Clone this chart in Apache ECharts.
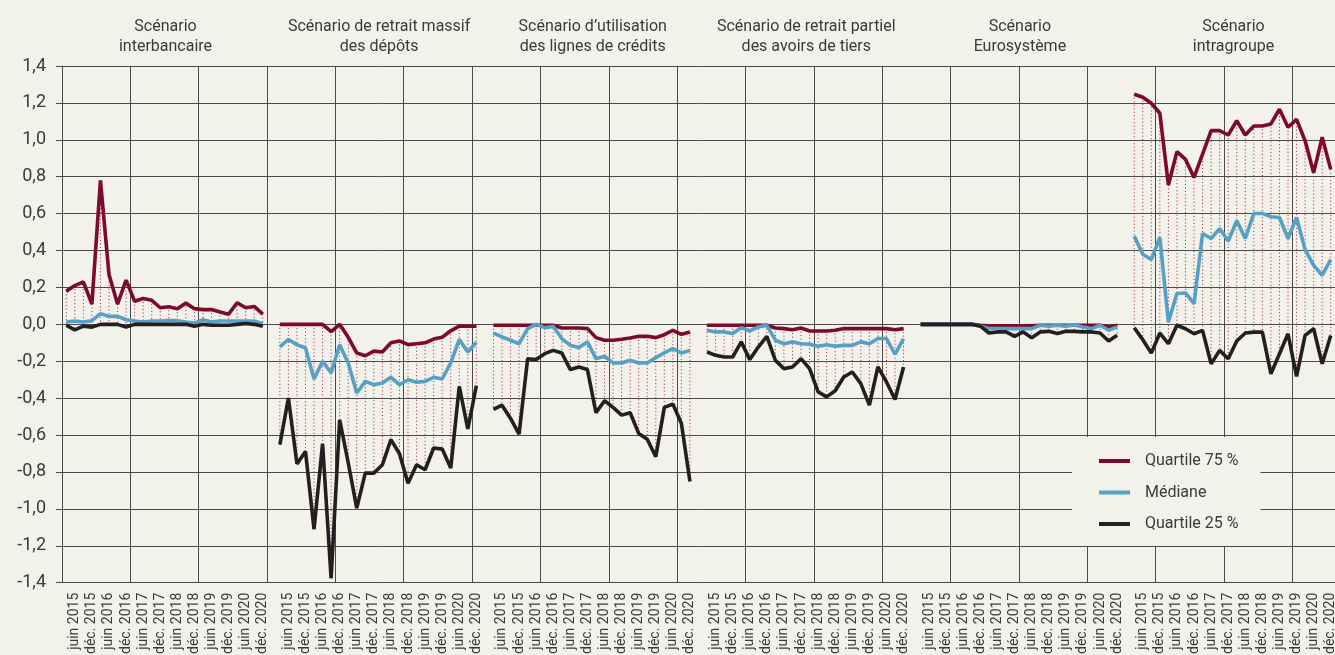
<!DOCTYPE html>
<html><head><meta charset="utf-8">
<script src="https://cdn.jsdelivr.net/npm/echarts@6/dist/echarts.min.js"></script>
<style>html,body{margin:0;padding:0;background:#f2f1ea}#c{width:1335px;height:655px}</style>
</head><body><div id="c"></div>
<script>
const tickLabels = ['juin 2015','déc. 2015','juin 2016','déc. 2016','juin 2017','déc. 2017','juin 2018','déc. 2018','juin 2019','déc. 2019','juin 2020','déc. 2020'];
const panelTitles = ['Scénario\ninterbancaire','Scénario de retrait massif\ndes dépôts','Scénario d’utilisation\ndes lignes de crédits','Scénario de retrait partiel\ndes avoirs de tiers','Scénario\nEurosystème','Scénario\nintragroupe'];
const seriesNames = ['Quartile 75 %','Médiane','Quartile 25 %'];

const interbancaireQ75 = [0.18,0.21,0.23,0.11,0.78,0.27,0.11,0.24,0.125,0.14,0.13,0.09,0.095,0.085,0.115,0.085,0.08,0.08,0.067,0.055,0.117,0.09,0.097,0.055];
const interbancaireMed = [0.013,0.018,0.013,0.02,0.058,0.043,0.043,0.025,0.018,0.013,0.018,0.018,0.02,0.02,0.013,0.007,0.025,0.013,0.018,0.018,0.018,0.018,0.018,0.004];
const interbancaireQ25 = [-0.005,-0.03,-0.01,-0.015,0,0,0,-0.015,0,0,0,0,0,0,0,-0.01,0,-0.005,-0.005,-0.005,0,0.005,0,-0.01];

const depotsQ75 = [0,0,0,0,0,0,-0.04,0,-0.07,-0.155,-0.17,-0.145,-0.15,-0.1,-0.09,-0.11,-0.105,-0.1,-0.08,-0.07,-0.035,-0.01,-0.01,-0.01];
const depotsMed = [-0.122,-0.082,-0.11,-0.128,-0.296,-0.2,-0.263,-0.11,-0.209,-0.372,-0.309,-0.327,-0.318,-0.287,-0.327,-0.3,-0.314,-0.309,-0.287,-0.296,-0.209,-0.082,-0.15,-0.097];
const depotsQ25 = [-0.652,-0.399,-0.756,-0.689,-1.11,-0.647,-1.376,-0.517,-0.75,-0.996,-0.806,-0.806,-0.761,-0.625,-0.701,-0.861,-0.761,-0.788,-0.67,-0.676,-0.779,-0.336,-0.567,-0.332];

const creditsQ75 = [-0.005,-0.005,-0.005,-0.005,-0.005,-0.005,-0.005,-0.005,-0.02,-0.02,-0.02,-0.023,-0.072,-0.086,-0.086,-0.081,-0.074,-0.065,-0.065,-0.072,-0.056,-0.032,-0.054,-0.041];
const creditsMed = [-0.047,-0.068,-0.086,-0.105,-0.023,0,-0.018,-0.011,-0.077,-0.114,-0.126,-0.095,-0.186,-0.173,-0.209,-0.209,-0.195,-0.209,-0.209,-0.18,-0.155,-0.132,-0.155,-0.141];
const creditsQ25 = [-0.461,-0.438,-0.51,-0.595,-0.186,-0.191,-0.159,-0.141,-0.155,-0.245,-0.231,-0.245,-0.479,-0.414,-0.45,-0.492,-0.479,-0.591,-0.623,-0.717,-0.45,-0.432,-0.537,-0.852];

const tiersQ75 = [-0.005,-0.005,-0.005,-0.005,-0.005,-0.005,-0.005,-0.005,-0.02,-0.023,-0.029,-0.02,-0.036,-0.036,-0.036,-0.032,-0.023,-0.023,-0.023,-0.023,-0.023,-0.023,-0.029,-0.023];
const tiersMed = [-0.032,-0.041,-0.041,-0.05,-0.018,-0.036,-0.014,-0.005,-0.086,-0.105,-0.095,-0.105,-0.108,-0.119,-0.11,-0.119,-0.114,-0.114,-0.095,-0.105,-0.077,-0.077,-0.162,-0.077];
const tiersQ25 = [-0.15,-0.168,-0.177,-0.177,-0.095,-0.191,-0.123,-0.065,-0.195,-0.24,-0.231,-0.186,-0.24,-0.366,-0.393,-0.36,-0.285,-0.258,-0.321,-0.438,-0.231,-0.312,-0.407,-0.231];

const euroQ75 = [0,0,0,0,0,0,0,-0.005,-0.008,-0.008,-0.008,-0.008,-0.008,-0.008,-0.005,-0.005,-0.005,-0.005,-0.005,-0.005,-0.005,-0.005,-0.015,-0.005];
const euroMed = [0,0,0,0,0,0,0,-0.01,-0.023,-0.023,-0.023,-0.023,-0.023,-0.023,-0.005,-0.01,-0.005,-0.01,-0.003,-0.014,-0.023,-0.005,-0.032,-0.014];
const euroQ25 = [0,0,0,0,0,0,0,-0.01,-0.047,-0.041,-0.041,-0.065,-0.041,-0.072,-0.041,-0.038,-0.05,-0.038,-0.038,-0.041,-0.041,-0.047,-0.09,-0.059];

const intraQ75 = [1.247,1.231,1.198,1.144,0.755,0.936,0.894,0.796,0.923,1.05,1.05,1.026,1.104,1.026,1.075,1.075,1.086,1.166,1.068,1.111,0.995,0.822,1.014,0.84];
const intraMed = [0.478,0.38,0.351,0.471,0.013,0.167,0.17,0.112,0.492,0.465,0.519,0.452,0.561,0.465,0.601,0.601,0.583,0.579,0.465,0.579,0.405,0.32,0.266,0.351];
const intraQ25 = [-0.018,-0.083,-0.156,-0.047,-0.105,-0.005,-0.024,-0.051,-0.033,-0.214,-0.141,-0.186,-0.09,-0.047,-0.042,-0.042,-0.268,-0.159,-0.051,-0.282,-0.06,-0.024,-0.214,-0.06];

const panels = [
  [interbancaireQ75, interbancaireMed, interbancaireQ25],
  [depotsQ75, depotsMed, depotsQ25],
  [creditsQ75, creditsMed, creditsQ25],
  [tiersQ75, tiersMed, tiersQ25],
  [euroQ75, euroMed, euroQ25],
  [intraQ75, intraMed, intraQ25]
];

const categories = [], labelOf = {}, q75 = [], med = [], q25 = [], drops = [], panelRange = [];
panels.forEach((p, pi) => {
  if (pi > 0) { const g = 'gap' + pi; categories.push(g); labelOf[g] = ''; q75.push(null); med.push(null); q25.push(null); }
  const start = categories.length;
  for (let k = 0; k < p[0].length; k++) {
    const idx = categories.length;
    const name = 'p' + pi + '-' + k;
    categories.push(name);
    labelOf[name] = (k % 2 === 1) ? tickLabels[(k - 1) / 2] : '';
    q75.push(p[0][k]); med.push(p[1][k]); q25.push(p[2][k]);
    drops.push([idx, p[0][k], p[2][k]]);
  }
  panelRange.push([categories[start], categories[categories.length - 1]]);
});

const gridColor = '#4a4a4a';
const textColor = '#3a3a3a';
const bg = '#f2f1ea';
const FONT = 'Roboto';
const colors = ['#7d0a2a', '#55a0c4', '#231f20'];

const chart = echarts.init(document.getElementById('c'), null, {renderer: 'canvas'});
const option = {
  backgroundColor: bg,
  animation: false,
  textStyle: {fontFamily: FONT},
  grid: {left: 62, right: 0, top: 66, bottom: 72.3, containLabel: false, outerBoundsMode: 'none'},
  xAxis: {
    type: 'category', data: categories, boundaryGap: true,
    axisLine: {show: true, lineStyle: {color: gridColor, width: 1}},
    axisTick: {show: false},
    splitLine: {show: true, interval: 7, lineStyle: {color: gridColor, width: 1}},
    axisLabel: {
      interval: (i, v) => labelOf[v] !== '',
      formatter: (v) => labelOf[v],
      rotate: 90, margin: 10, fontSize: 14, color: textColor, fontFamily: FONT
    }
  },
  yAxis: {
    type: 'value', min: -1.4, max: 1.4, interval: 0.2,
    axisLine: {show: true, lineStyle: {color: gridColor, width: 1}},
    axisTick: {show: true, length: 6, lineStyle: {color: gridColor, width: 1}},
    splitLine: {show: true, lineStyle: {color: gridColor, width: 1}},
    axisLabel: {
      fontSize: 18, color: textColor, margin: 16, fontFamily: FONT,
      formatter: v => (Math.round(v * 10) / 10).toFixed(1).replace('.', ',')
    }
  },
  legend: {
    orient: 'vertical', left: 1072, top: 437,
    backgroundColor: bg, padding: [16, 22, 14, 27],
    icon: 'rect', itemWidth: 31, itemHeight: 4, itemGap: 15.5,
    textStyle: {fontSize: 16, color: textColor, fontFamily: FONT, padding: [0, 0, 0, 10]},
    data: seriesNames
  },
  series: [
    {
      type: 'custom', name: 'drops', silent: true, z: 1,
      encode: {x: 0, y: [1, 2]},
      data: drops,
      renderItem: (params, api) => {
        const a = api.coord([api.value(0), api.value(1)]);
        const b = api.coord([api.value(0), api.value(2)]);
        return {type: 'line', shape: {x1: a[0], y1: a[1], x2: b[0], y2: b[1]},
          style: {stroke: '#a01e40', lineWidth: 1, lineDash: [1, 2.5]}};
      }
    },
    {type: 'line', name: seriesNames[0], data: q75, color: colors[0], symbol: 'none', z: 2,
      lineStyle: {width: 3.6, color: colors[0]}},
    {type: 'line', name: seriesNames[1], data: med, color: colors[1], symbol: 'none', z: 3,
      lineStyle: {width: 3.6, color: colors[1]}},
    {type: 'line', name: seriesNames[2], data: q25, color: colors[2], symbol: 'none', z: 4,
      lineStyle: {width: 3.6, color: colors[2]}}
  ]
};
chart.setOption(option);

const graphics = panelTitles.map((t, i) => {
  const x1 = chart.convertToPixel({xAxisIndex: 0}, panelRange[i][0]);
  const x2 = chart.convertToPixel({xAxisIndex: 0}, panelRange[i][1]);
  return {type: 'text', x: (x1 + x2) / 2 + 1, y: 37,
    style: {text: t, align: 'center', verticalAlign: 'middle', fontSize: 16, lineHeight: 20,
      fill: textColor, fontFamily: FONT}};
});
chart.setOption({graphic: graphics});
</script></body></html>
